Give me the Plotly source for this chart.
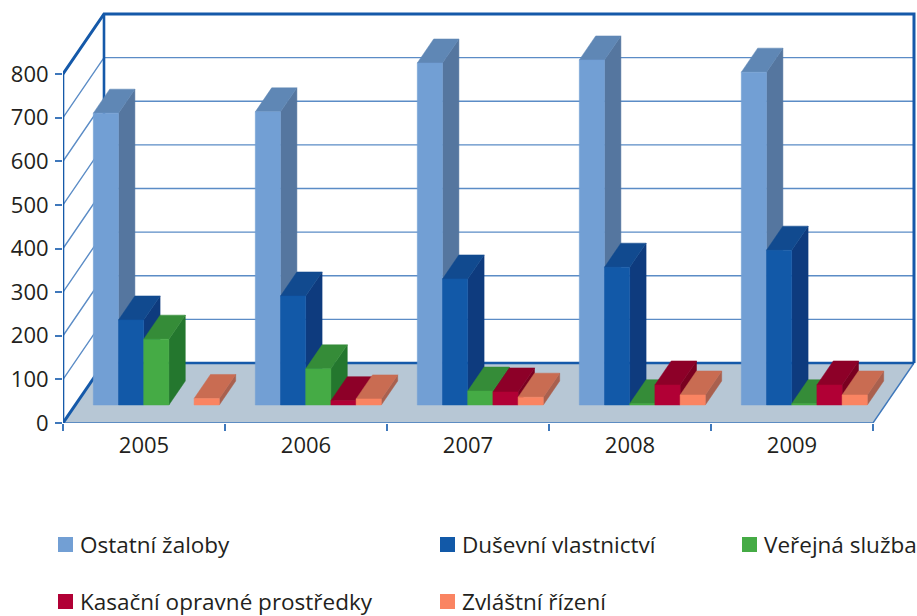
import plotly.graph_objects as go

# ---- data ----
YEARS = ["2005", "2006", "2007", "2008", "2009"]
SERIES = ["Ostatní žaloby", "Duševní vlastnictví", "Veřejná služba",
          "Kasační opravné prostředky", "Zvláštní řízení"]
OSTATNI = [669, 672, 784, 791, 763]
DUSEVNI = [195, 250, 289, 316, 355]
VEREJNA = [151, 83, 32, 3, 3]
KASACNI = [0, 10, 30, 46, 46]
ZVLASTNI = [15, 14, 18, 23, 23]
VALUES = [OSTATNI, DUSEVNI, VEREJNA, KASACNI, ZVLASTNI]
Y_TICKS = [0, 100, 200, 300, 400, 500, 600, 700, 800]

# ---- styling ----
FRONT = ["#729fd4", "#1259a8", "#45ab45", "#b10035", "#fa8462"]
TOP = ["#5f87b5", "#114a8f", "#358c38", "#8d0028", "#c96c52"]
SIDE = ["#55769f", "#0e3b7e", "#24772e", "#7a0020", "#a9604e"]
AXIS = "#1559a9"
GRID = "#5b8cc6"
THIN = "#3f78bb"
FLOOR = "#b7c7d5"
TEXT = "#231f20"
FONT = "Open Sans"

W, H = 917, 616
L, R, T, B = 63, 873, 74, 423
PX_X = (R - L) / len(YEARS)
PX_Y = (B - T) / 800
DX = 41 / PX_X           # depth of the floor, in axis units
DY = 60 / PX_Y
BAR_D0, BAR_D = 18 / 60, 24 / 60
GAP = 18 / PX_X
NUDGE = 0.0 / PX_X
BAR_W = (1 - 2 * GAP) / 5
VMAX = Y_TICKS[-1]
N = len(YEARS)

fig = go.Figure()


def line(xs, ys, color, width):
    fig.add_trace(go.Scatter(x=xs, y=ys, mode="lines", showlegend=False,
                             hoverinfo="skip", line=dict(color=color, width=width)))


def poly(xs, ys, color, name=None):
    fig.add_trace(go.Scatter(x=xs, y=ys, mode="lines", fill="toself", fillcolor=color, name=name,
                             showlegend=False, hoverinfo="skip",
                             line=dict(color=color, width=0.5)))


# floor
poly([0, N, N + DX, DX, 0], [0, 0, DY, DY, 0], FLOOR)

# walls: gridlines
for v in Y_TICKS[1:-1]:
    line([0, DX, N + DX], [v, v + DY, v + DY], GRID, 1.4)
line([N, N + DX], [0, DY], THIN, 1.4)
line([0, N], [0, 0], THIN, 1.5)
# walls: frame
line([0, DX], [0, DY], AXIS, 3)
line([0, 0], [0, VMAX], AXIS, 2.6)
line([0, DX, N + DX, N + DX], [VMAX, VMAX + DY, VMAX + DY, DY], AXIS, 3)
line([DX, DX, N + DX], [VMAX + DY, DY, DY], AXIS, 2.6)

# bars
for k, vals in enumerate(VALUES):
    fx, fy, tx, ty, sx, sy = [], [], [], [], [], []
    for i, v in enumerate(vals):
        if v <= 0:
            continue
        x0 = i + BAR_D0 * DX + GAP + NUDGE + k * BAR_W
        x1 = x0 + BAR_W
        b = BAR_D0 * DY
        t = b + v
        ddx, ddy = BAR_D * DX, BAR_D * DY
        fx += [x0, x1, x1, x0, x0, None]
        fy += [b, b, t, t, b, None]
        tx += [x0, x1, x1 + ddx, x0 + ddx, x0, None]
        ty += [t, t, t + ddy, t + ddy, t, None]
        sx += [x1, x1 + ddx, x1 + ddx, x1, x1, None]
        sy += [b, b + ddy, t + ddy, t, b, None]
    poly(sx, sy, SIDE[k])
    poly(tx, ty, TOP[k])
    poly(fx, fy, FRONT[k], SERIES[k])


# legend, placed in paper coordinates
def paper_x(p):
    return (p - L) / (W - L)


def paper_y(p):
    return (B - p) / B


LEG_POS = [(58, 537), (440, 537), (742, 537), (58, 594), (440, 594)]
shapes, annotations = [], []
for k, (px, py) in enumerate(LEG_POS):
    shapes.append(dict(type="rect", xref="paper", yref="paper", layer="above",
                       x0=paper_x(px), x1=paper_x(px + 15), y0=paper_y(py), y1=paper_y(py + 15),
                       fillcolor=FRONT[k], line=dict(width=0)))
    annotations.append(dict(xref="paper", yref="paper", x=paper_x(px + 20), y=paper_y(py + 7.5),
                            xanchor="left", yanchor="middle", showarrow=False, text=SERIES[k],
                            font=dict(family=FONT, size=22.5, color=TEXT)))

fig.update_layout(
    width=W, height=H, autosize=False,
    margin=dict(l=L, r=0, t=0, b=H - B, pad=0),
    paper_bgcolor="white", plot_bgcolor="rgba(0,0,0,0)",
    showlegend=False, shapes=shapes, annotations=annotations,
    xaxis=dict(range=[0, (W - L) / PX_X], tickmode="array", tickvals=[i + 0.5 for i in range(N)], ticktext=YEARS,
               ticks="", showgrid=False, zeroline=False, showline=False,
               minor=dict(tickmode="array", tickvals=list(range(N + 1)), ticks="outside", ticklen=7,
                          tickcolor=THIN, tickwidth=1.5, showgrid=False),
               tickfont=dict(family=FONT, size=22, color=TEXT), ticklabelstandoff=7),
    yaxis=dict(range=[0, B / PX_Y], tickmode="array", tickvals=Y_TICKS, ticktext=[str(v) for v in Y_TICKS],
               ticks="outside", ticklen=7, tickcolor=THIN, tickwidth=1.5,
               showgrid=False, zeroline=False, showline=False, ticklabelstandoff=2,
               tickfont=dict(family=FONT, size=22, color=TEXT)),
)

fig.write_html("out.html", config={"displayModeBar": False},
               post_script="document.body.style.margin='0';document.documentElement.style.overflow='hidden';")
